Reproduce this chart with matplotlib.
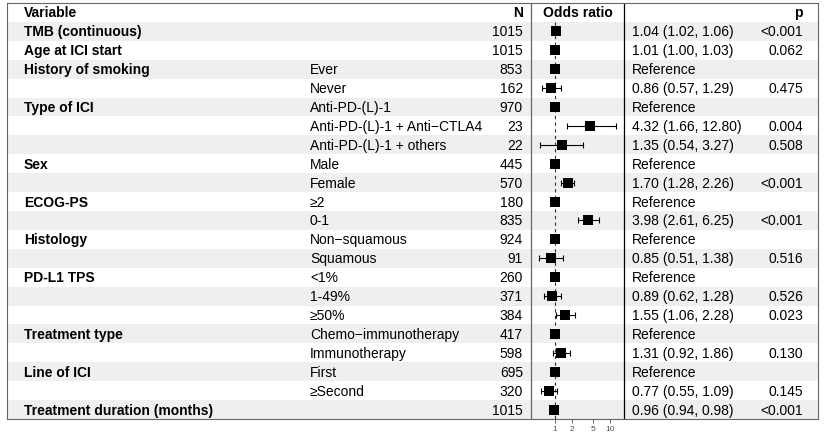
import numpy as np
import matplotlib
matplotlib.use("Agg")
import matplotlib.pyplot as plt

plt.rcParams['font.family'] = ['Liberation Sans', 'DejaVu Sans']
plt.rcParams['font.size'] = 10

# datos de la tabla (una fila por nivel)
variables = ["TMB (continuous)", "Age at ICI start", "History of smoking", "",
             "Type of ICI", "", "", "Sex", "", "ECOG-PS", "",
             "Histology", "", "PD-L1 TPS", "", "", "Treatment type", "",
             "Line of ICI", "", "Treatment duration (months)"]
levels = ["", "", "Ever", "Never",
          "Anti-PD-(L)-1", "Anti-PD-(L)-1 + Anti\u2212CTLA4", "Anti-PD-(L)-1 + others",
          "Male", "Female", "\u22652", "0-1",
          "Non\u2212squamous", "Squamous", "<1%", "1-49%", "\u226550%",
          "Chemo\u2212immunotherapy", "Immunotherapy", "First", "\u2265Second", ""]
n_obs = [1015, 1015, 853, 162, 970, 23, 22, 445, 570, 180, 835,
         924, 91, 260, 371, 384, 417, 598, 695, 320, 1015]
# odds ratio e IC 95% (nan = categoria de referencia)
odds = [1.04, 1.01, np.nan, 0.86, np.nan, 4.32, 1.35, np.nan, 1.70, np.nan, 3.98,
        np.nan, 0.85, np.nan, 0.89, 1.55, np.nan, 1.31, np.nan, 0.77, 0.96]
ci_low = [1.02, 1.00, np.nan, 0.57, np.nan, 1.66, 0.54, np.nan, 1.28, np.nan, 2.61,
          np.nan, 0.51, np.nan, 0.62, 1.06, np.nan, 0.92, np.nan, 0.55, 0.94]
ci_high = [1.06, 1.03, np.nan, 1.29, np.nan, 12.80, 3.27, np.nan, 2.26, np.nan, 6.25,
           np.nan, 1.38, np.nan, 1.28, 2.28, np.nan, 1.86, np.nan, 1.09, 0.98]
p_values = ["<0.001", "0.062", "", "0.475", "", "0.004", "0.508", "", "<0.001", "",
            "<0.001", "", "0.516", "", "0.526", "0.023", "", "0.130", "", "0.145",
            "<0.001"]
axis_ticks = [1, 2, 5, 10]

W, H = 824, 439
box_l, box_r, box_t, box_b = 7, 818, 4, 420
forest_l, forest_r = 531, 624
n_rows = len(n_obs) + 1   # cabecera + filas

fig = plt.figure(figsize=(W / 100, H / 100), dpi=100)

# ejes de la tabla (x en pixeles, y en filas)
ax = fig.add_axes([box_l / W, 1 - box_b / H, (box_r - box_l) / W, (box_b - box_t) / H])
ax.set_xlim(box_l, box_r)
ax.set_ylim(n_rows, 0)
ax.set_xticks([])
ax.set_yticks([])
for s in ax.spines.values():
    s.set_color('#666666')
    s.set_linewidth(0.8)

for k in range(1, n_rows):
    if k % 2 == 1:
        ax.axhspan(k, k + 1, color='#EFEFEF', lw=0, zorder=0)

ax.axvline(forest_l, color='#666666', lw=0.9)
ax.axvline(forest_r, color='black', lw=0.9)

# cabecera
ax.text(24, 0.5, "Variable", fontweight='bold', va='center')
ax.text(523, 0.5, "N", fontweight='bold', va='center', ha='right')
ax.text((forest_l + forest_r) / 2, 0.5, "Odds ratio", fontweight='bold', va='center', ha='center')
ax.text(803, 0.5, "p", fontweight='bold', va='center', ha='right')

for i in range(len(n_obs)):
    y = i + 1.5
    ax.text(24, y, variables[i], fontweight='bold', va='center')
    ax.text(310, y, levels[i], va='center')
    ax.text(523, y, str(n_obs[i]), va='center', ha='right')
    if np.isnan(odds[i]):
        est = "Reference"
    else:
        est = f"{odds[i]:.2f} ({ci_low[i]:.2f}, {ci_high[i]:.2f})"
    ax.text(632, y, est, va='center')
    ax.text(803, y, p_values[i], va='center', ha='right')

# panel del forest plot
fx = fig.add_axes([forest_l / W, 1 - box_b / H, (forest_r - forest_l) / W, (box_b - box_t) / H])
fx.set_facecolor('none')
fx.set_xscale('log')
fx.set_xlim(0.366, 17.97)
fx.set_ylim(n_rows, 0)
for s in fx.spines.values():
    s.set_visible(False)
fx.set_yticks([])
fx.set_xticks(axis_ticks)
fx.set_xticklabels([str(t) for t in axis_ticks])
fx.minorticks_off()
fx.tick_params(axis='x', length=3, width=0.6, color='#4D4D4D', labelsize=6,
               labelcolor='#4D4D4D', pad=1)

fx.plot([1, 1], [1, n_rows], color='#333333', lw=0.8, ls=(0, (3, 3)), zorder=1)

odds_arr = np.array(odds)
lo_arr = np.array(ci_low)
hi_arr = np.array(ci_high)
ys = np.arange(len(n_obs)) + 1.5
has_ci = ~np.isnan(odds_arr)
fx.errorbar(odds_arr[has_ci], ys[has_ci],
            xerr=[odds_arr[has_ci] - lo_arr[has_ci], hi_arr[has_ci] - odds_arr[has_ci]],
            fmt='none', ecolor='black', elinewidth=0.8, capsize=2, capthick=0.8, zorder=2)
point = np.where(has_ci, odds_arr, 1.0)
fx.scatter(point, ys, marker='s', s=62, color='black', lw=0, zorder=3)

fig.savefig("out.png", dpi=100)
